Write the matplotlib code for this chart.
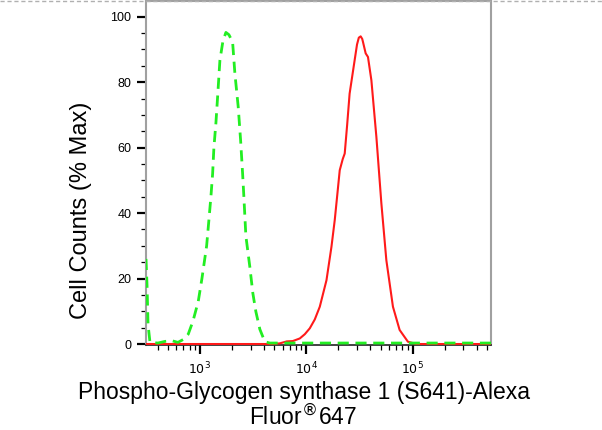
import matplotlib
matplotlib.use("Agg")
import matplotlib.pyplot as plt
from matplotlib.lines import Line2D
from matplotlib.ticker import LogLocator, FixedLocator, NullFormatter

plt.rcParams['font.family'] = ['Liberation Sans', 'DejaVu Sans']

# Isotype/control (green dashed) histogram: intensity, % max
green_x = [311, 318, 325, 339, 403, 469, 546, 621, 707, 776, 860, 964, 1044, 1156,
           1215, 1268, 1316, 1353, 1413, 1466, 1541, 1644, 1755, 1872, 2028, 2132,
           2290, 2412, 2518, 2589, 2704, 2945, 3145, 3357, 3660, 4076, 4540, 10000,
           100000, 546000]
green_y = [26, 18, 6, 0.5, 0.3, 0.8, 1.0, 0.5, 1.5, 3, 7, 13, 20, 30,
           38, 45, 52, 60, 67.5, 75.5, 86.7, 92.5, 95.2, 94.5, 92.3, 82.6,
           72.5, 62.3, 52.2, 45, 33, 23.6, 15.5, 9.9, 4.5, 0.7, 0.3, 0.3,
           0.3, 0.3]

# Stained sample (red solid) histogram
red_x = [311, 4742, 5632, 6560, 7467, 8690, 9686, 10790, 12020, 13400, 15490, 17250,
         18530, 19560, 20640, 22020, 22990, 24240, 25560, 28500, 30000, 31200, 32480,
         33600, 34140, 36190, 38040, 40950, 45630, 50830, 56630, 65320, 75480,
         90350, 108400, 546000]
red_y = [0, 0, 0.2, 0.8, 0.9, 1.7, 3.0, 4.8, 7.5, 11.4, 19.5, 29.7,
         37.9, 45.5, 53.1, 56.5, 58.2, 67, 76.5, 86.7, 91.5, 93.6, 94,
         93.2, 92.3, 88.8, 87.7, 80.6, 63.3, 43.0, 25.6, 11.4, 4.3,
         0.7, 0, 0]

y_major = [0, 20, 40, 60, 80, 100]
x_major = [1e3, 1e4, 1e5]
x_labels = ['$10^3$', '$10^4$', '$10^5$']

fig = plt.figure(figsize=(6.02, 4.30), dpi=100)
ax = fig.add_axes([146/602, 1 - 345/430, (491 - 146)/602, (345 - 1)/430])

ax.plot(red_x, red_y, color='#ff1a1a', lw=1.5, zorder=3)
ax.plot(green_x, green_y, color='#22ee22', lw=2.0, ls=(0, (4, 2.4)), zorder=4)

ax.set_xscale('log')
ax.set_xlim(311, 546000)
ax.set_ylim(-0.3, 104.8)

ax.xaxis.set_major_locator(FixedLocator(x_major))
ax.set_xticklabels(x_labels, fontsize=9)
ax.xaxis.set_minor_locator(LogLocator(base=10, subs=range(2, 10), numticks=20))
ax.xaxis.set_minor_formatter(NullFormatter())

ax.set_yticks(y_major)
ax.set_yticklabels([str(v) for v in y_major], fontsize=9)
ax.set_yticks(range(0, 105, 5), minor=True)

ax.tick_params(axis='both', which='major', direction='out', length=6.5, width=1.6,
               color='black', pad=4)
ax.tick_params(axis='both', which='minor', direction='out', length=3.5, width=0.9,
               color='black')
ax.tick_params(axis='x', which='major', pad=5)

for side in ['left', 'top', 'right']:
    ax.spines[side].set_color('#a0a0a0')
    ax.spines[side].set_linewidth(1.5)
ax.spines['bottom'].set_color('#222222')
ax.spines['bottom'].set_linewidth(1.2)

fig.text(81/602, 1 - 210/430, 'Cell Counts (% Max)', rotation=90,
         ha='center', va='center', fontsize=17)
fig.text(304/602, 1 - 392/430, 'Phospho-Glycogen synthase 1 (S641)-Alexa',
         ha='center', va='center', fontsize=16.5)
fig.text(303/602, 1 - 417/430, 'Fluor$^{\u00ae}$647',
         ha='center', va='center', fontsize=16.5)

# dashed top border of the figure
fig.add_artist(Line2D([0, 1], [1 - 1/430, 1 - 1/430], transform=fig.transFigure,
                      color='#b0b0b0', lw=1.0, ls=(0, (3, 2))))

fig.savefig('out.png', dpi=100)
